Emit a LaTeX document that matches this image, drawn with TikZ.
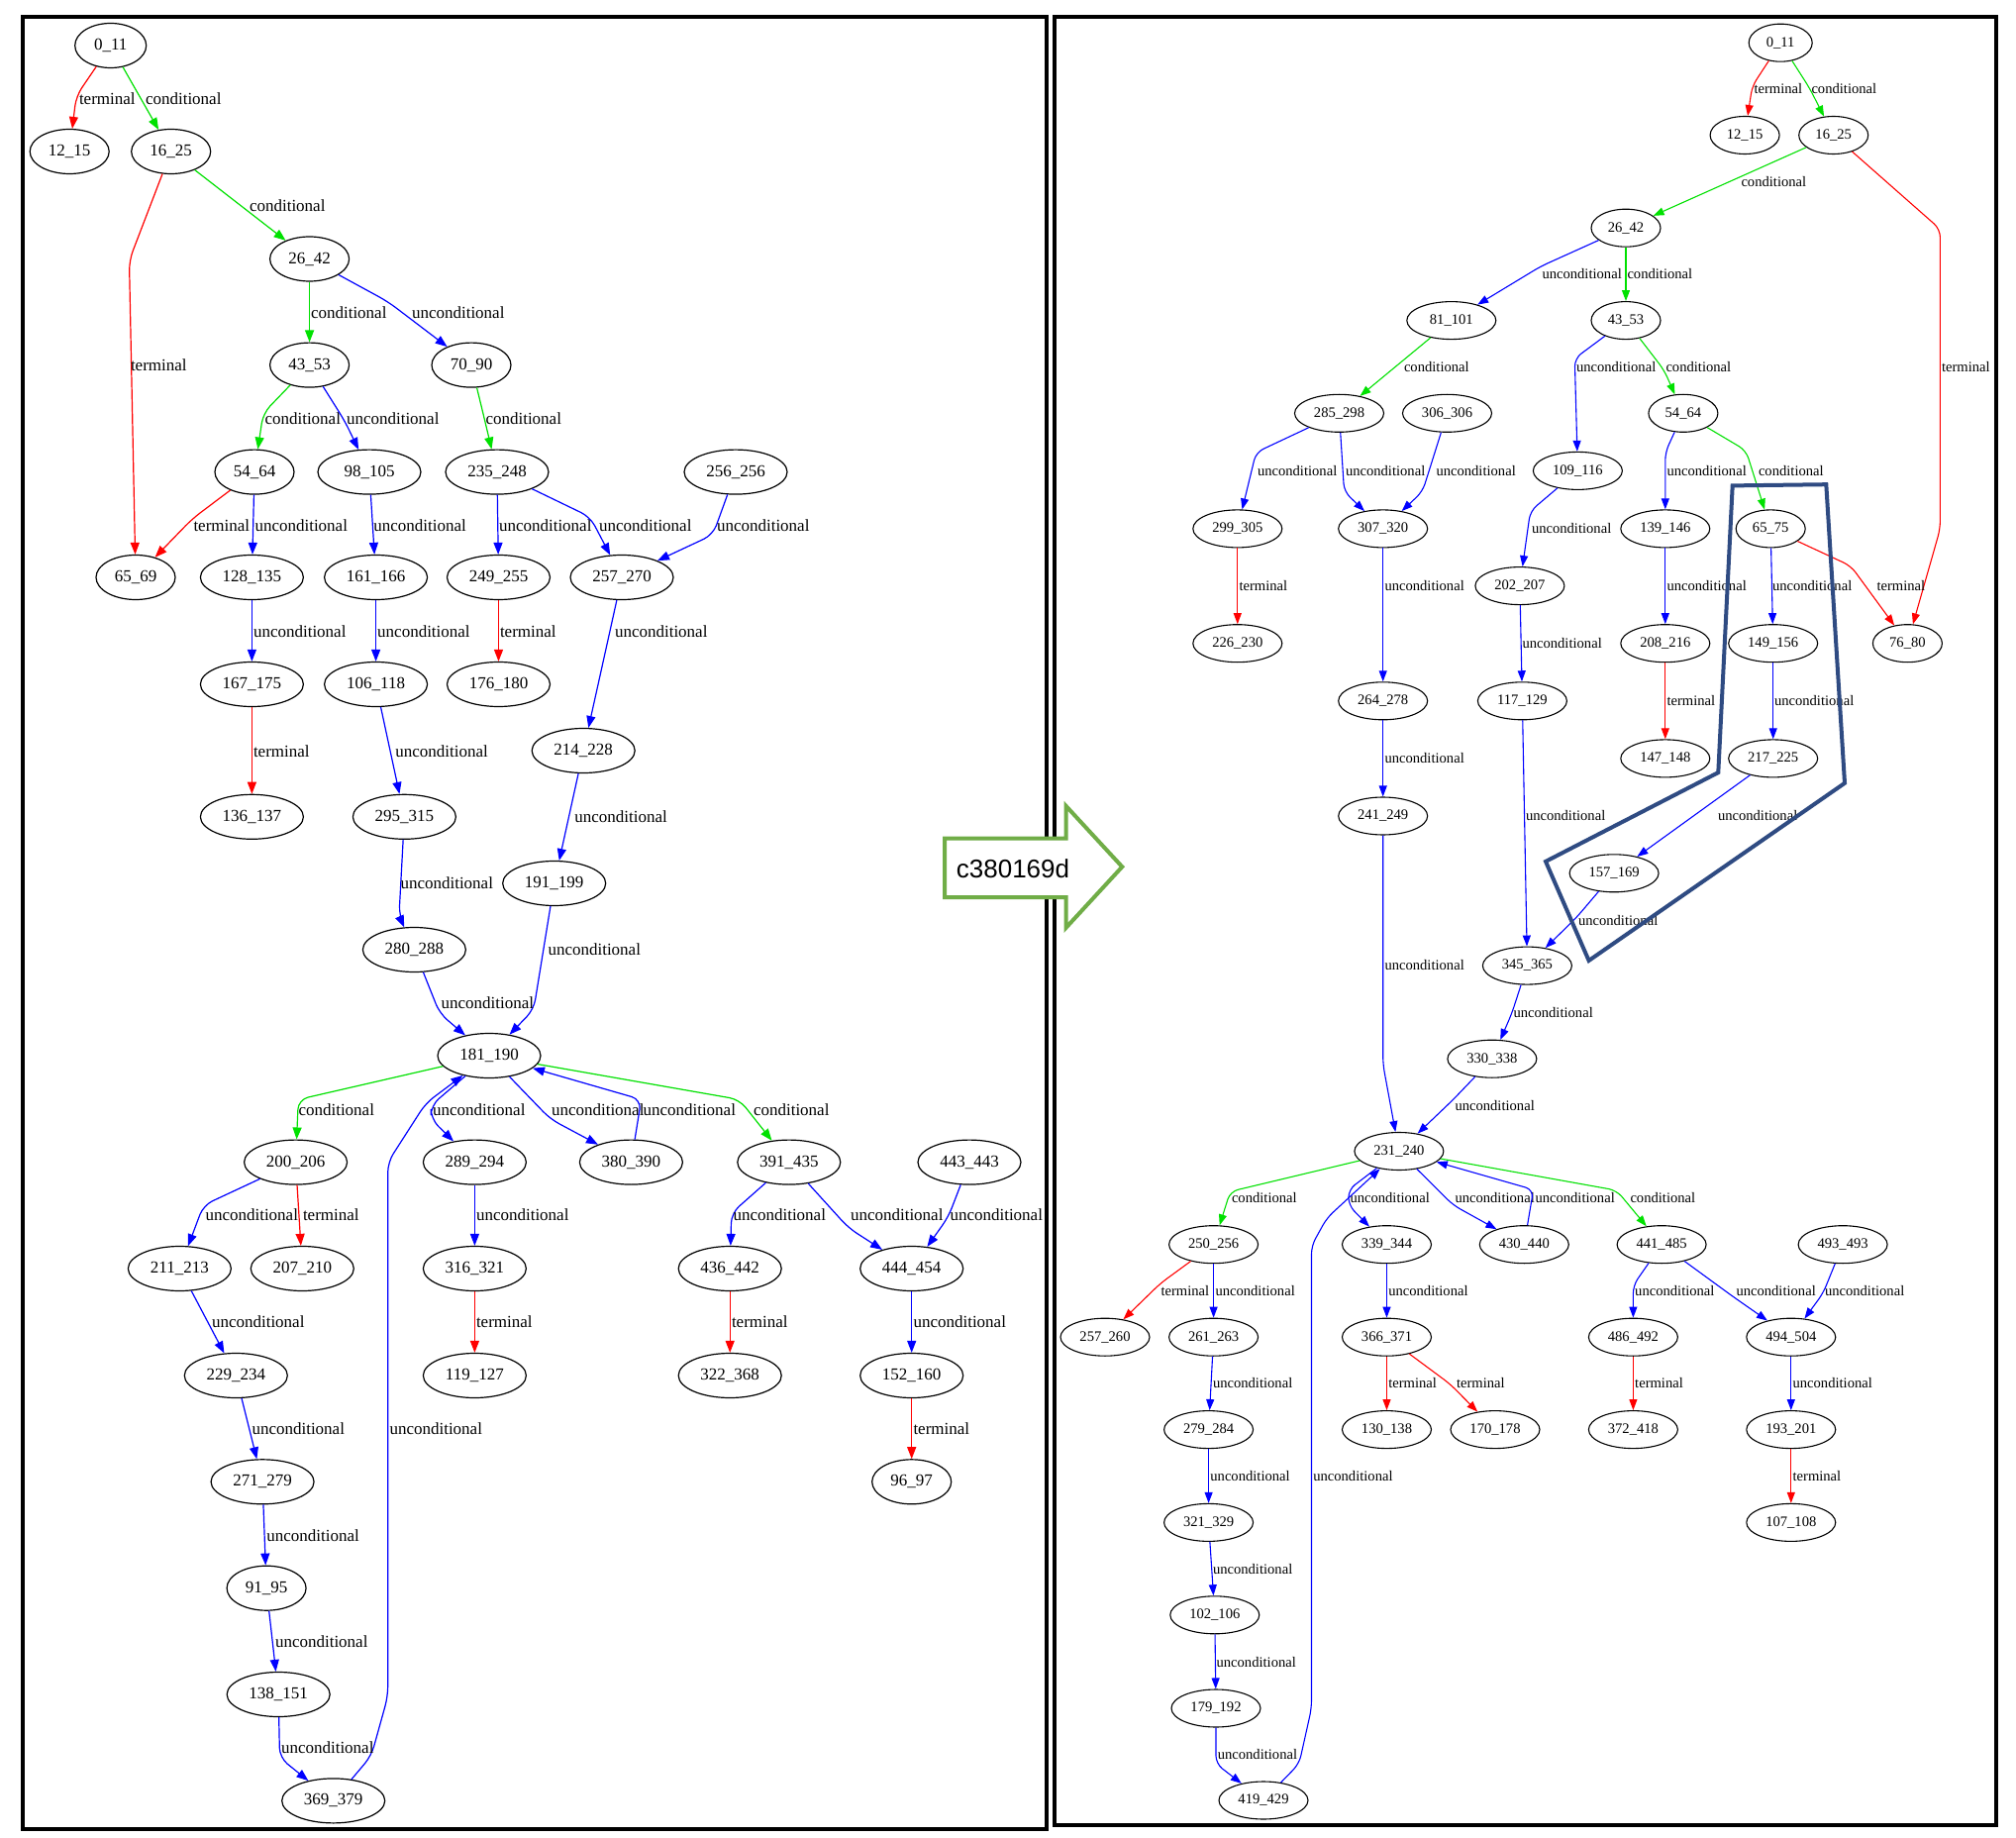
\documentclass[tikz,border=0pt]{standalone}
\usepackage{fontspec}
\setmainfont{Liberation Serif}
\newfontfamily\arrowfont{Liberation Sans}
\usetikzlibrary{shapes.geometric,arrows.meta}
\definecolor{eg}{RGB}{0,225,0}
\definecolor{er}{RGB}{255,0,0}
\definecolor{eb}{RGB}{0,0,255}
\definecolor{agreen}{RGB}{112,173,71}
\definecolor{hlblue}{RGB}{47,75,130}
\newcommand\lfnt{\fontsize{8.5}{10}\selectfont}
\newcommand\rfnt{\fontsize{7.3}{9}\selectfont}
\newcount\labno
\newcommand\LL[3]{\global\advance\labno by 1\relax\node[llab] (lab\the\labno) at (#1,#2) {#3};}
\newcommand\RL[3]{\global\advance\labno by 1\relax\node[rlab] (lab\the\labno) at (#1,#2) {#3};}
\tikzset{
 lnode/.style={ellipse, draw, line width=0.6pt, inner sep=0pt, minimum width=40pt, minimum height=22.5pt, font=\lfnt},
 lnodel/.style={lnode, minimum width=52pt},
 rnode/.style={ellipse, draw, line width=0.55pt, inner sep=0pt, minimum width=35pt, minimum height=19pt, font=\rfnt},
 rnodel/.style={rnode, minimum width=45pt},
 ledge/.style={line width=0.6pt, rounded corners=5pt, -{Triangle[length=6pt,width=4.5pt]}},
 redge/.style={line width=0.55pt, rounded corners=4pt, -{Triangle[length=5.5pt,width=4pt]}},
 lg/.style={ledge, draw=eg}, lr/.style={ledge, draw=er}, lb/.style={ledge, draw=eb},
 rg/.style={redge, draw=eg}, rr/.style={redge, draw=er}, rb/.style={redge, draw=eb},
 llab/.style={anchor=west, inner sep=0.3pt, font=\lfnt},
 rlab/.style={anchor=west, inner sep=0.3pt, font=\rfnt},
 panel/.style={line width=1.75pt, draw=black},
}
\begin{document}
\begin{tikzpicture}[x=0.5pt,y=-0.5pt]
\useasboundingbox (0,0) rectangle (2036,1856);
\fill[white] (0,0) rectangle (2036,1856);
% panels
\draw[panel] (23,17) rectangle (1057,1847);
\draw[panel] (1065,17) rectangle (2016,1843);

% ================= LEFT PANEL NODES =================
\node[lnode, minimum width=36pt] (a0x11) at (111.7,46) {0\_11};
\node[lnode] (a12x15) at (70.2,153) {12\_15};
\node[lnode] (a16x25) at (172.7,153) {16\_25};
\node[lnode] (a26x42) at (312.6,261.5) {26\_42};
\node[lnode] (a43x53) at (312.6,368.6) {43\_53};
\node[lnode] (a70x90) at (476,368.6) {70\_90};
\node[lnode] (a54x64) at (257,476.6) {54\_64};
\node[lnodel] (a98x105) at (373,476.6) {98\_105};
\node[lnodel] (a235x248) at (502,476.6) {235\_248};
\node[lnodel] (a256x256) at (743,476.6) {256\_256};
\node[lnode] (a65x69) at (137,583) {65\_69};
\node[lnodel] (a128x135) at (254.4,583) {128\_135};
\node[lnodel] (a161x166) at (379.6,583) {161\_166};
\node[lnodel] (a249x255) at (503.5,583) {249\_255};
\node[lnodel] (a257x270) at (628,583) {257\_270};
\node[lnodel] (a167x175) at (254.4,691) {167\_175};
\node[lnodel] (a106x118) at (379.6,691) {106\_118};
\node[lnodel] (a176x180) at (503.5,691) {176\_180};
\node[lnodel] (a214x228) at (589.2,758) {214\_228};
\node[lnodel] (a136x137) at (254.4,824.8) {136\_137};
\node[lnodel] (a295x315) at (408.4,824.8) {295\_315};
\node[lnodel] (a191x199) at (559.7,892) {191\_199};
\node[lnodel] (a280x288) at (418.4,959) {280\_288};
\node[lnodel] (a181x190) at (494,1066) {181\_190};
\node[lnodel] (a200x206) at (298.6,1173.6) {200\_206};
\node[lnodel] (a289x294) at (479.4,1173.6) {289\_294};
\node[lnodel] (a380x390) at (637.4,1173.6) {380\_390};
\node[lnodel] (a391x435) at (796.8,1173.6) {391\_435};
\node[lnodel] (a443x443) at (979,1173.6) {443\_443};
\node[lnodel] (a211x213) at (181.4,1281) {211\_213};
\node[lnodel] (a207x210) at (305.3,1281) {207\_210};
\node[lnodel] (a316x321) at (479.4,1281) {316\_321};
\node[lnodel] (a436x442) at (737.2,1281) {436\_442};
\node[lnodel] (a444x454) at (920.7,1281) {444\_454};
\node[lnodel] (a229x234) at (238.3,1389) {229\_234};
\node[lnodel] (a119x127) at (479.4,1389) {119\_127};
\node[lnodel] (a322x368) at (737.2,1389) {322\_368};
\node[lnodel] (a152x160) at (920.7,1389) {152\_160};
\node[lnodel] (a271x279) at (265.1,1496.3) {271\_279};
\node[lnode] (a96x97) at (920.7,1496.3) {96\_97};
\node[lnode] (a91x95) at (269.1,1603.7) {91\_95};
\node[lnodel] (a138x151) at (281.2,1711) {138\_151};
\node[lnodel] (a369x379) at (336.7,1818.4) {369\_379};

% ================= LEFT PANEL EDGES =================
\draw[lr] (a0x11) -- (77,97) -- (a12x15);            \LL{79}{100}{terminal}
\draw[lg] (a0x11) -- (a16x25);                       \LL{146}{100}{conditional}
\draw[lg] (a16x25) -- (a26x42);                      \LL{251}{207.7}{conditional}
\draw[lr] (a16x25) -- (130.5,263) -- (a65x69);       \LL{131}{369}{terminal}
\draw[lg] (a26x42) -- (a43x53);                      \LL{313}{315.6}{conditional}
\draw[lb] (a26x42) -- (391.7,304.6) -- (a70x90);     \LL{415}{315.6}{unconditional}
\draw[lg] (a43x53) -- (265.8,417.3) -- (a54x64);     \LL{266.5}{422.4}{conditional}
\draw[lb] (a43x53) -- (348.2,425.2) -- (a98x105);    \LL{349}{422.4}{unconditional}
\draw[lg] (a70x90) -- (488.8,421.2) -- (a235x248);   \LL{489.5}{422.4}{conditional}
\draw[lr] (a54x64) -- (194.1,524) -- (a65x69);       \LL{194.5}{530.4}{terminal}
\draw[lb] (a54x64) -- (a128x135);                    \LL{256.5}{530.4}{unconditional}
\draw[lb] (a98x105) -- (a161x166);                   \LL{376.3}{530.4}{unconditional}
\draw[lb] (a235x248) -- (a249x255);                  \LL{503}{530.4}{unconditional}
\draw[lb] (a235x248) -- (596,522) -- (a257x270);     \LL{604}{530.4}{unconditional}
\draw[lb] (a256x256) -- (720,540) -- (a257x270);     \LL{723}{530.4}{unconditional}
\draw[lb] (a128x135) -- (a167x175);                  \LL{255}{637.8}{unconditional}
\draw[lb] (a161x166) -- (a106x118);                  \LL{380.2}{637.8}{unconditional}
\draw[lr] (a249x255) -- (a176x180);                  \LL{504}{637.8}{terminal}
\draw[lb] (a257x270) -- (a214x228);                  \LL{620}{637.8}{unconditional}
\draw[lr] (a167x175) -- (a136x137);                  \LL{255}{758.4}{terminal}
\draw[lb] (a106x118) -- (a295x315);                  \LL{398.4}{758.4}{unconditional}
\draw[lb] (a214x228) -- (a191x199);                  \LL{579.3}{824.8}{unconditional}
\draw[lb] (a295x315) -- (403,924.5) -- (a280x288);   \LL{403.5}{892}{unconditional}
\draw[lb] (a191x199) -- (539,1019.4) -- (a181x190);  \LL{552.5}{958.9}{unconditional}
\draw[lb] (a280x288) -- (444,1023.3) -- (a181x190);  \LL{444.6}{1012.6}{unconditional}
\draw[lg] (a181x190) -- (301.3,1110.3) -- (a200x206); \LL{300.5}{1120.2}{conditional}
\draw[lb] (a181x190) -- (435.3,1116.2) -- (435.3,1130) -- (a289x294); \LL{436}{1120.2}{unconditional}
\draw[lb] (a181x190) -- (555.8,1130) -- (a380x390);  \LL{556}{1120.2}{unconditional}
\draw[lb] (a380x390) -- (647.6,1110.3) -- (a181x190); \LL{648.5}{1120.2}{unconditional}
\draw[lg] (a181x190) -- (746.7,1110.3) -- (a391x435); \LL{760}{1120.2}{conditional}
\draw[lb] (a369x379) -- (375,1773) -- (391.7,1713) -- (391.7,1173.6) -- (430,1114) -- (a181x190); \LL{392.5}{1442.4}{unconditional}
\draw[lb] (a200x206) -- (205.5,1217) -- (a211x213);  \LL{206.5}{1227}{unconditional}
\draw[lr] (a200x206) -- (a207x210);                  \LL{305}{1227}{terminal}
\draw[lb] (a289x294) -- (a316x321);                  \LL{480}{1227}{unconditional}
\draw[lb] (a391x435) -- (738.7,1225) -- (a436x442);  \LL{739.5}{1227}{unconditional}
\draw[lb] (a391x435) -- (857,1240) -- (a444x454);    \LL{858}{1227}{unconditional}
\draw[lb] (a443x443) -- (957.7,1228.9) -- (a444x454); \LL{958.5}{1227}{unconditional}
\draw[lb] (a211x213) -- (a229x234);                  \LL{213}{1335}{unconditional}
\draw[lr] (a316x321) -- (a119x127);                  \LL{480}{1335}{terminal}
\draw[lr] (a436x442) -- (a322x368);                  \LL{738}{1335}{terminal}
\draw[lb] (a444x454) -- (a152x160);                  \LL{921.5}{1335}{unconditional}
\draw[lb] (a229x234) -- (a271x279);                  \LL{253.5}{1442.4}{unconditional}
\draw[lr] (a152x160) -- (a96x97);                    \LL{921.5}{1442.4}{terminal}
\draw[lb] (a271x279) -- (a91x95);                    \LL{268.3}{1550.2}{unconditional}
\draw[lb] (a91x95) -- (a138x151);                    \LL{277}{1657.5}{unconditional}
\draw[lb] (a138x151) -- (282.5,1775) -- (a369x379);  \LL{283}{1765}{unconditional}

% ================= RIGHT PANEL NODES =================
\node[rnode, minimum width=32pt] (b0x11) at (1798.2,43.2) {0\_11};
\node[rnode] (b12x15) at (1762.1,136.5) {12\_15};
\node[rnode] (b16x25) at (1851.7,136.5) {16\_25};
\node[rnode] (b26x42) at (1642,230.2) {26\_42};
\node[rnodel] (b81x101) at (1465.8,323.6) {81\_101};
\node[rnode] (b43x53) at (1642,323.6) {43\_53};
\node[rnodel] (b285x298) at (1352.5,417.3) {285\_298};
\node[rnodel] (b306x306) at (1461.5,417.3) {306\_306};
\node[rnode] (b54x64) at (1699.9,417.3) {54\_64};
\node[rnodel] (b109x116) at (1593.4,475.4) {109\_116};
\node[rnodel] (b299x305) at (1249.8,533.9) {299\_305};
\node[rnodel] (b307x320) at (1396.7,533.9) {307\_320};
\node[rnodel] (b139x146) at (1681.8,533.9) {139\_146};
\node[rnode] (b65x75) at (1788.2,533.9) {65\_75};
\node[rnodel] (b202x207) at (1534.9,591.6) {202\_207};
\node[rnodel] (b226x230) at (1249.8,649.7) {226\_230};
\node[rnodel] (b208x216) at (1681.8,649.7) {208\_216};
\node[rnodel] (b149x156) at (1790.7,649.7) {149\_156};
\node[rnode] (b76x80) at (1926.4,649.7) {76\_80};
\node[rnodel] (b264x278) at (1396.7,707.8) {264\_278};
\node[rnodel] (b117x129) at (1537.4,707.8) {117\_129};
\node[rnodel] (b147x148) at (1681.8,765.9) {147\_148};
\node[rnodel] (b217x225) at (1790.7,765.9) {217\_225};
\node[rnodel] (b241x249) at (1396.7,824) {241\_249};
\node[rnodel] (b157x169) at (1630.1,881.8) {157\_169};
\node[rnodel] (b345x365) at (1542.4,975.1) {345\_365};
\node[rnodel] (b330x338) at (1506.9,1069.2) {330\_338};
\node[rnodel] (b231x240) at (1412.9,1162.5) {231\_240};
\node[rnodel] (b250x256) at (1225.6,1256.7) {250\_256};
\node[rnodel] (b339x344) at (1400.5,1256.7) {339\_344};
\node[rnodel] (b430x440) at (1539.3,1256.7) {430\_440};
\node[rnodel] (b441x485) at (1678.1,1256.7) {441\_485};
\node[rnodel] (b493x493) at (1861.1,1256.7) {493\_493};
\node[rnodel] (b257x260) at (1116,1350.2) {257\_260};
\node[rnodel] (b261x263) at (1225.6,1350.2) {261\_263};
\node[rnodel] (b366x371) at (1400.5,1350.2) {366\_371};
\node[rnodel] (b486x492) at (1649.4,1350.2) {486\_492};
\node[rnodel] (b494x504) at (1808.8,1350.2) {494\_504};
\node[rnodel] (b279x284) at (1220.6,1443.6) {279\_284};
\node[rnodel] (b130x138) at (1400.5,1443.6) {130\_138};
\node[rnodel] (b170x178) at (1510,1443.6) {170\_178};
\node[rnodel] (b372x418) at (1649.4,1443.6) {372\_418};
\node[rnodel] (b193x201) at (1808.8,1443.6) {193\_201};
\node[rnodel] (b321x329) at (1220.6,1537.4) {321\_329};
\node[rnodel] (b107x108) at (1808.8,1537.4) {107\_108};
\node[rnodel] (b102x106) at (1226.8,1630.8) {102\_106};
\node[rnodel] (b179x192) at (1228,1725) {179\_192};
\node[rnodel] (b419x429) at (1276,1818) {419\_429};

% ================= RIGHT PANEL EDGES =================
\draw[rr] (b0x11) -- (1769.6,87) -- (b12x15);        \RL{1770.5}{89.9}{terminal}
\draw[rg] (b0x11) -- (1827.5,89) -- (b16x25);        \RL{1828.5}{89.9}{conditional}
\draw[rg] (b16x25) -- (b26x42);                      \RL{1757.5}{183.2}{conditional}
\draw[rr] (b16x25) -- (1959.4,231.4) -- (1959.4,534) -- (b76x80); \RL{1960}{370.6}{terminal}
\draw[rb] (b26x42) -- (1556,269) -- (b81x101);       \RL{1556.5}{277}{unconditional}
\draw[rg] (b26x42) -- (b43x53);                      \RL{1642.5}{277}{conditional}
\draw[rg] (b81x101) -- (b285x298);                   \RL{1417}{370.6}{conditional}
\draw[rb] (b43x53) -- (1590.3,362) -- (b109x116);    \RL{1591}{370.6}{unconditional}
\draw[rg] (b43x53) -- (1680.6,373.8) -- (b54x64);    \RL{1681.5}{370.6}{conditional}
\draw[rb] (b285x298) -- (1268.5,456.8) -- (b299x305); \RL{1269}{475.4}{unconditional}
\draw[rb] (b285x298) -- (1357.5,496.4) -- (b307x320); \RL{1358}{475.4}{unconditional}
\draw[rb] (b306x306) -- (1436.6,496.4) -- (b307x320); \RL{1449.5}{475.4}{unconditional}
\draw[rb] (b54x64) -- (1681.8,456.8) -- (b139x146);  \RL{1682.5}{475.4}{unconditional}
\draw[rg] (b54x64) -- (1763.3,454.9) -- (b65x75);    \RL{1775}{475.4}{conditional}
\draw[rb] (b109x116) -- (1545.5,516.1) -- (b202x207); \RL{1546}{533.9}{unconditional}
\draw[rr] (b299x305) -- (b226x230);                  \RL{1250.5}{592}{terminal}
\draw[rb] (b307x320) -- (b264x278);                  \RL{1397.5}{592}{unconditional}
\draw[rb] (b139x146) -- (b208x216);                  \RL{1682.5}{592}{unconditional}
\draw[rb] (b65x75) -- (b149x156);                    \RL{1789}{592}{unconditional}
\draw[rr] (b65x75) -- (1869.2,571.5) -- (b76x80);    \RL{1894.5}{592}{terminal}
\draw[rb] (b202x207) -- (b117x129);                  \RL{1536.5}{649.7}{unconditional}
\draw[rr] (b208x216) -- (b147x148);                  \RL{1682.5}{707.8}{terminal}
\draw[rb] (b149x156) -- (b217x225);                  \RL{1791}{707.8}{unconditional}
\draw[rb] (b264x278) -- (b241x249);                  \RL{1397.5}{765.9}{unconditional}
\draw[rb] (b117x129) -- (b345x365);                  \RL{1540}{824}{unconditional}
\draw[rb] (b217x225) -- (b157x169);                  \RL{1734}{824}{unconditional}
\draw[rb] (b157x169) -- (1592.2,926.4) -- (b345x365); \RL{1593}{929.2}{unconditional}
\draw[rb] (b241x249) -- (1396.7,1074.7) -- (b231x240); \RL{1397.5}{975}{unconditional}
\draw[rb] (b345x365) -- (1526.8,1023.3) -- (b330x338); \RL{1527.5}{1022.5}{unconditional}
\draw[rb] (b330x338) -- (1467.7,1110.3) -- (b231x240); \RL{1468.5}{1116.2}{unconditional}
\draw[rg] (b231x240) -- (1242.4,1203.2) -- (b250x256); \RL{1243}{1209.6}{conditional}
\draw[rb] (b231x240) -- (1361.9,1201.3) -- (1361.9,1217) -- (b339x344); \RL{1362.5}{1209.6}{unconditional}
\draw[rb] (b231x240) -- (1467.7,1217) -- (b430x440); \RL{1468.5}{1209.6}{unconditional}
\draw[rb] (b430x440) -- (1548.6,1201.3) -- (b231x240); \RL{1549.5}{1209.6}{unconditional}
\draw[rg] (b231x240) -- (1632.6,1202) -- (b441x485); \RL{1645.5}{1209.6}{conditional}
\draw[rb] (b419x429) -- (1312,1781) -- (1324.5,1725) -- (1324.5,1258) -- (1340,1230) -- (b231x240); \RL{1325.3}{1490.7}{unconditional}
\draw[rr] (b250x256) -- (1172,1295.9) -- (b257x260); \RL{1171.5}{1303}{terminal}
\draw[rb] (b250x256) -- (b261x263);                  \RL{1226.5}{1303}{unconditional}
\draw[rb] (b339x344) -- (b366x371);                  \RL{1401.3}{1303}{unconditional}
\draw[rb] (b441x485) -- (1649.4,1297.9) -- (b486x492); \RL{1650.2}{1303}{unconditional}
\draw[rb] (b441x485) -- (1750.9,1309.8) -- (b494x504); \RL{1752.5}{1303}{unconditional}
\draw[rb] (b493x493) -- (1841.2,1305.8) -- (b494x504); \RL{1842}{1303}{unconditional}
\draw[rb] (b261x263) -- (b279x284);                  \RL{1224}{1396.9}{unconditional}
\draw[rr] (b366x371) -- (b130x138);                  \RL{1401.3}{1396.9}{terminal}
\draw[rr] (b366x371) -- (1464.6,1397.7) -- (b170x178); \RL{1470}{1396.9}{terminal}
\draw[rr] (b486x492) -- (b372x418);                  \RL{1650.2}{1396.9}{terminal}
\draw[rb] (b494x504) -- (b193x201);                  \RL{1809.6}{1396.9}{unconditional}
\draw[rb] (b279x284) -- (b321x329);                  \RL{1221.4}{1490.7}{unconditional}
\draw[rr] (b193x201) -- (b107x108);                  \RL{1809.6}{1490.7}{terminal}
\draw[rb] (b321x329) -- (b102x106);                  \RL{1224}{1584}{unconditional}
\draw[rb] (b102x106) -- (b179x192);                  \RL{1227.6}{1678}{unconditional}
\draw[rb] (b179x192) -- (1228,1781) -- (b419x429);   \RL{1228.8}{1771.7}{unconditional}

% highlight polygon
\draw[hlblue, line width=2pt, line join=miter] (1749.7,490.4) -- (1844.3,489.2) -- (1863,790.8) -- (1604.6,970) -- (1561,869.9) -- (1735.3,780.1) -- cycle;

% transition arrow
\draw[agreen, line width=2pt, fill=white, line join=miter] (954,846.7) -- (1076.7,846.7) -- (1076.7,814) -- (1133.3,875.3) -- (1076.7,936.7) -- (1076.7,906) -- (954,906) -- cycle;
\node[font=\arrowfont\fontsize{13}{15}\selectfont, inner sep=0pt] (arrowlbl) at (1023,877) {c380169d};
\end{tikzpicture}
\end{document}
